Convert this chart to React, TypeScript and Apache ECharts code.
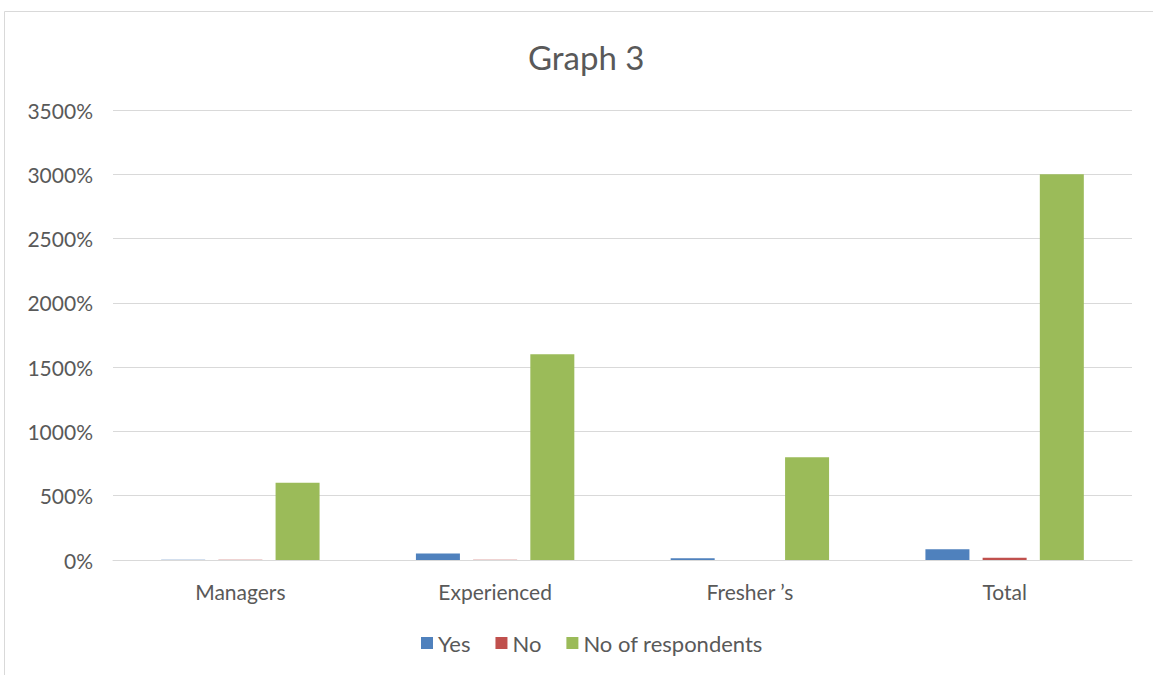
import React, { useEffect, useRef } from "react";
import * as echarts from "echarts";

const categories = ["Managers", "Experienced", "Fresher \u2019s", "Total"];
const yesValues = [2, 50, 13, 83];
const noValues = [2, 2, 0, 17];
const respondentValues = [600, 1600, 800, 3000];

export default function App() {
  const ref = useRef<HTMLDivElement>(null);
  useEffect(() => {
    document.body.style.margin = "0";
    const chart = echarts.init(ref.current!, null, { renderer: "svg" });
    const font = "Lato, 'Open Sans', sans-serif";
    chart.setOption({
      animation: false,
      backgroundColor: "#ffffff",
      title: {
        text: "Graph 3",
        left: 523,
        top: 35,
        textStyle: { fontFamily: font, fontSize: 33, fontWeight: "normal", color: "#595959" },
      },
      graphic: [
        {
          type: "rect",
          shape: { x: 4.5, y: 11.5, width: 1200, height: 700 },
          style: { fill: "none", stroke: "#d9d9d9", lineWidth: 1 },
          silent: true,
        },
      ],
      legend: {
        bottom: 16,
        left: 416,
        itemWidth: 12,
        itemHeight: 12,
        itemGap: 25,
        icon: "rect",
        textStyle: { fontFamily: font, fontSize: 22, color: "#595959" },
        data: ["Yes", "No", "No of respondents"],
      },
      grid: { left: 113, right: 21, top: 110, bottom: 115, containLabel: false },
      xAxis: {
        type: "category",
        data: categories,
        axisLine: { lineStyle: { color: "#d9d9d9", width: 1 } },
        axisTick: { show: false },
        axisLabel: { fontFamily: font, fontSize: 21, color: "#595959", margin: 21 },
      },
      yAxis: {
        type: "value",
        min: 0,
        max: 3500,
        interval: 500,
        axisLine: { show: false },
        axisTick: { show: false },
        splitLine: { lineStyle: { color: "#d9d9d9", width: 1 } },
        axisLabel: {
          fontFamily: font,
          fontSize: 21,
          color: "#595959",
          margin: 20,
          formatter: (v: number) => v + "%",
        },
      },
      series: [
        { name: "Yes", type: "bar", data: yesValues, barWidth: 44, barGap: "30%", itemStyle: { color: "#4f81bd" } },
        { name: "No", type: "bar", data: noValues, barWidth: 44, barGap: "30%", itemStyle: { color: "#c0504d" } },
        { name: "No of respondents", type: "bar", data: respondentValues, barWidth: 44, barGap: "30%", itemStyle: { color: "#9bbb59" } },
      ],
    });
    return () => chart.dispose();
  }, []);
  return <div ref={ref} style={{ position: "absolute", left: 0, top: 0, width: 1153, height: 675 }} />;
}
